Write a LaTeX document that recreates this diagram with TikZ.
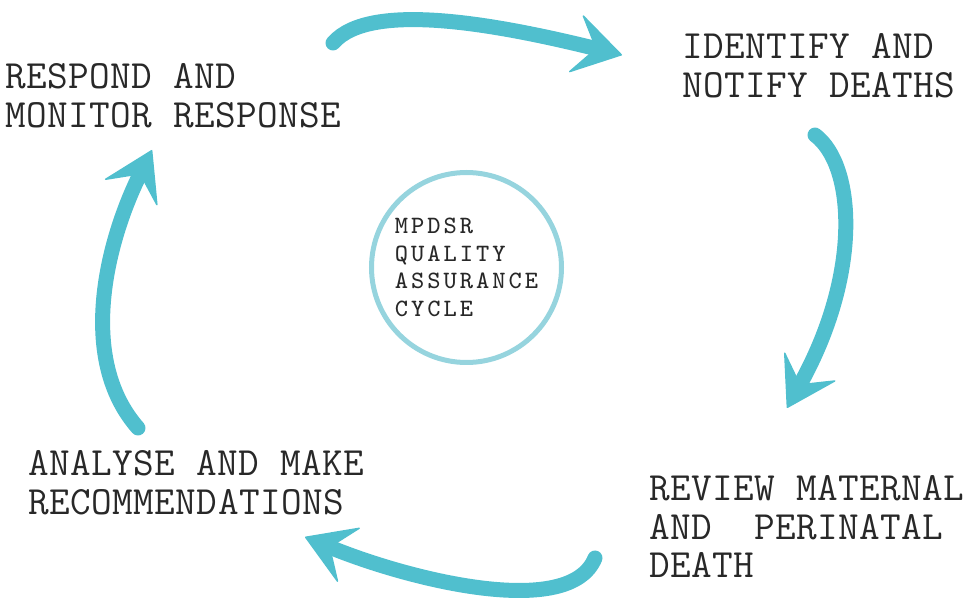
\documentclass[tikz,border=0pt]{standalone}
\usepackage{fontspec}
\usetikzlibrary{arrows.meta}

\newfontfamily\stagefont{Latin Modern Mono}[LetterSpace=1]
\newfontfamily\hubfont{Latin Modern Mono}[LetterSpace=12]

\definecolor{cyclearrow}{RGB}{80,191,206}
\definecolor{hubring}{RGB}{150,212,222}
\definecolor{stageink}{RGB}{40,40,40}

\begin{document}
\begin{tikzpicture}[
	stage/.style={anchor=north west, inner sep=0pt, align=left, text=stageink,
		font=\stagefont\fontsize{11.4}{10.95}\selectfont},
	hub/.style={circle, draw=hubring, line width=0.05cm, minimum size=1.90cm, inner sep=0pt,
		align=left, text=stageink,
		font=\hubfont\fontsize{7.1}{7.88}\selectfont},
	turn/.style={draw=cyclearrow, line width=0.15cm, line cap=round,
		-{Stealth[length=0.5cm, width=0.62cm, inset=0.22cm, line width=0.4pt, round]}}
	]
	\useasboundingbox (0,0) rectangle (9.72,6.00);

	\node[stage] (respond) at (0.05,5.37) {RESPOND AND\\MONITOR RESPONSE};
	\node[stage] (identify) at (6.82,5.67) {IDENTIFY AND\\NOTIFY DEATHS};
	\node[stage] (review) at (6.49,1.25) {REVIEW MATERNAL\\AND\ \ PERINATAL\\DEATH};
	\node[stage] (analyse) at (0.28,1.50) {ANALYSE AND MAKE\\RECOMMENDATIONS};
	\node[hub] (cycle) at (4.665,3.325) {MPDSR\\QUALITY\\ASSURANCE\\CYCLE};

	\coordinate (respondOut) at (3.33,5.57);
	\coordinate (identifyIn) at (6.22,5.45);
	\coordinate (identifyOut) at (8.15,4.65);
	\coordinate (reviewIn) at (7.87,1.92);
	\coordinate (reviewOut) at (5.95,0.42);
	\coordinate (analyseIn) at (3.05,0.63);
	\coordinate (analyseOut) at (1.38,1.72);
	\coordinate (respondIn) at (1.52,4.50);

	\draw[turn] (respondOut) .. controls (3.70,6.00) and (5.00,5.75) .. (identifyIn);
	\draw[turn] (identifyOut) .. controls (8.55,4.35) and (8.62,3.27) .. (reviewIn);
	\draw[turn] (reviewOut) .. controls (5.70,-0.20) and (4.10,0.20) .. (analyseIn);
	\draw[turn] (analyseOut) .. controls (0.78,2.40) and (1.05,3.55) .. (respondIn);
\end{tikzpicture}
\end{document}
